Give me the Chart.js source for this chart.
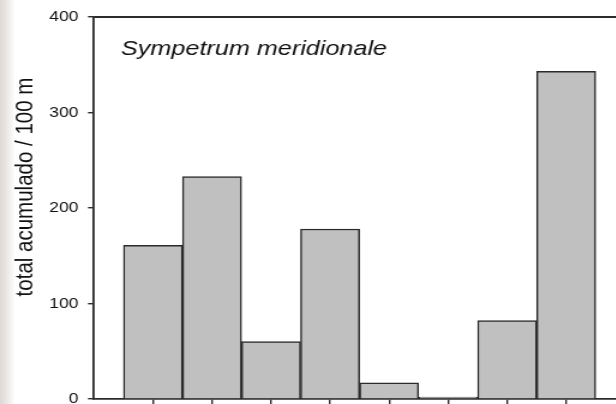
<!DOCTYPE html>
<html>
<head>
<meta charset="utf-8">
<script src="https://cdn.jsdelivr.net/npm/chart.js@4/dist/chart.umd.min.js"></script>
<style>
    html, body {
        margin: 0;
        padding: 0;
        width: 616px;
        height: 404px;
        overflow: hidden;
        background: linear-gradient(to right, #dcd8d3 0px, #ebe8e5 7px, #ffffff 15px);
    }
    #chart {
        transform: scaleX(1.2);
        transform-origin: 0 0;
    }
</style>
</head>
<body>
<canvas id="chart" width="540" height="430"></canvas>
<script>
// values
const bins = [1, 2, 3, 4, 5, 6, 7, 8];
const counts = [161, 233, 60, 178, 17, 2, 82, 343];
const yTicks = [0, 100, 200, 300, 400];
const speciesName = 'Sympetrum meridionale';
const yTitle = 'total acumulado / 100 m';

const lineColor = '#2b2b2b';
Chart.defaults.font.family = '"Liberation Sans", Arial, sans-serif';
Chart.defaults.color = '#000';

const ctx = document.getElementById('chart');

new Chart(ctx, {
    type: 'bar',
    data: {
        datasets: [{
            data: bins.map((b, i) => ({ x: b, y: counts[i] })),
            backgroundColor: '#c0c0c0',
            borderColor: lineColor,
            borderWidth: 1.5,
            barPercentage: 1,
            categoryPercentage: 1,
        }],
    },
    options: {
        responsive: false,
        animation: false,
        layout: {
            padding: { top: 17, left: 0, right: 19, bottom: 0 }
        },
        scales: {
            x: {
                type: 'linear',
                offset: false,
                min: 0,
                max: 9,
                afterBuildTicks: (scale) => {
                    scale.ticks = bins.map(v => ({ value: v }));
                },
                afterFit: (scale) => { scale.height = 31; },
                grid: {
                    offset: false,
                    drawOnChartArea: false,
                    drawTicks: true,
                    tickLength: 5,
                    color: lineColor,
                    lineWidth: 1.4,
                },
                border: { color: lineColor, width: 1.8 },
                ticks: { callback: () => '' },
            },
            y: {
                min: 0,
                max: 400,
                afterBuildTicks: (scale) => {
                    scale.ticks = yTicks.map(v => ({ value: v }));
                },
                afterFit: (scale) => { scale.width = 78.3; },
                grid: {
                    drawOnChartArea: false,
                    drawTicks: true,
                    tickLength: 5,
                    color: lineColor,
                    lineWidth: 1.4,
                },
                border: { color: lineColor, width: 1.8 },
                ticks: {
                    padding: 8,
                    color: '#111',
                    font: { size: 14.5 },
                },
            },
        },
        plugins: {
            legend: { display: false },
            tooltip: { enabled: false },
        },
    },
    plugins: [
        {
            id: 'frameAndText',
            afterDraw(chart) {
                const { ctx, chartArea: { left, right, top } } = chart;
                ctx.save();
                // top frame line
                ctx.strokeStyle = lineColor;
                ctx.lineWidth = 1.8;
                ctx.beginPath();
                ctx.moveTo(left, top);
                ctx.lineTo(right, top);
                ctx.stroke();

                // species label inside the plot
                ctx.fillStyle = '#111';
                ctx.font = 'italic 21px "Liberation Sans", Arial, sans-serif';
                ctx.textAlign = 'left';
                ctx.textBaseline = 'alphabetic';
                ctx.fillText(speciesName, left + 22.5, top + 38);

                // y axis title
                ctx.translate(26.7, 187);
                ctx.rotate(-Math.PI / 2);
                ctx.textAlign = 'center';
                ctx.font = '20.5px "Liberation Sans", Arial, sans-serif';
                ctx.fillText(yTitle, 0, 0);
                ctx.restore();
            },
        },
    ],
});
</script>
</body>
</html>
